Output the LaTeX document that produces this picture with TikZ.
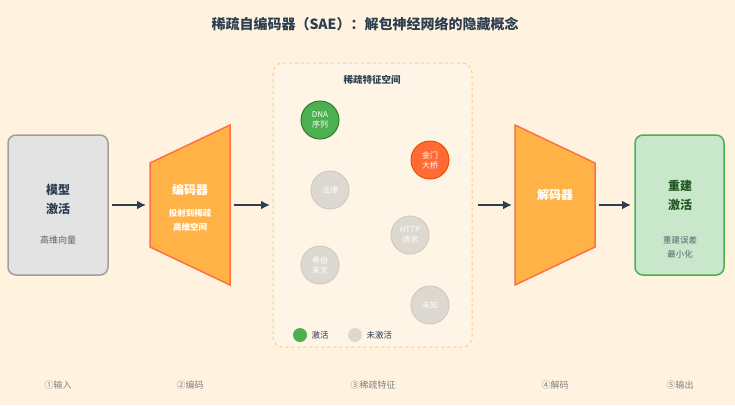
\documentclass[tikz,border=0pt]{standalone}
\usepackage{fontspec}
\setmainfont{Noto Sans CJK SC}
\usepackage{tikz}
\usetikzlibrary{positioning, arrows.meta}
\definecolor{bgColor}{HTML}{FFF3E0}
\definecolor{darkColor}{HTML}{2C3E50}
\definecolor{encColor}{HTML}{FFB347}
\definecolor{encLine}{HTML}{FF7043}
\definecolor{onColor}{HTML}{4CAF50}
\definecolor{onLine}{HTML}{2E7D32}
\definecolor{hotColor}{HTML}{FF6B35}
\definecolor{hotLine}{HTML}{E65100}
\definecolor{offColor}{HTML}{DDD8D0}
\definecolor{offLine}{HTML}{D0CAC0}
\begin{document}
\begin{tikzpicture}[
  x=1pt, y=-1pt,
  arrow/.style={-{Latex[length=9pt,width=9pt]}, line width=1.8pt, draw=darkColor},
  feature/.style={circle, minimum size=38pt, inner sep=0pt, line width=1pt,
    align=center, text=white, font=\fontsize{8}{10}\selectfont},
  stage/.style={text=gray, font=\fontsize{9}{11}\selectfont}
]
  \fill[bgColor] (0,0) rectangle (735,405);
  \useasboundingbox (0,0) rectangle (735,405);

  % Title
  \node[font=\bfseries\fontsize{14}{16}\selectfont, text=darkColor] (title) at (365,24) {稀疏自编码器（SAE）：解包神经网络的隐藏概念};

  % Input
  \draw[rounded corners=8pt, fill=gray!22, draw=gray!75, line width=1.5pt] (8,135) rectangle (108,275);
  \node[align=center, font=\bfseries\fontsize{12}{19}\selectfont, text=darkColor] (inp) at (58,199) {模型\\激活};
  \node[font=\fontsize{9}{11}\selectfont, text=darkColor!80] (inpsub) at (58,240) {高维向量};
  \coordinate (inpR) at (112,205);

  % Encoder
  \draw[fill=encColor, draw=encLine, line width=1.5pt] (150,163) -- (230,125) -- (230,285) -- (150,247) -- cycle;
  \node[font=\bfseries\fontsize{12}{14}\selectfont, text=white] (enc) at (190,190) {编码器};
  \node[align=center, font=\bfseries\fontsize{8.5}{14}\selectfont, text=white] (encsub) at (190,220) {投射到稀疏\\高维空间};
  \coordinate (encL) at (146,205);
  \coordinate (encR) at (234,205);

  % Sparse space
  \draw[rounded corners=10pt, dashed, draw=encColor!70, line width=1pt, fill=bgColor!80!white] (273,63) rectangle (472,347);
  \node[font=\bfseries\fontsize{9.5}{11}\selectfont, text=darkColor] (sptitle) at (372,80) {稀疏特征空间};
  \coordinate (spL) at (270,205);
  \coordinate (spR) at (478,205);

  \node[feature, fill=onColor, draw=onLine] (dna) at (320,120) {DNA\\序列};
  \node[feature, fill=hotColor, draw=hotLine] (bridge) at (430,160) {金门\\大桥};
  \node[feature, fill=offColor, draw=offLine] (law) at (330,190) {法律};
  \node[feature, fill=offColor, draw=offLine] (http) at (410,235) {HTTP\\请求};
  \node[feature, fill=offColor, draw=offLine] (hebrew) at (320,265) {希伯\\来文};
  \node[feature, fill=offColor, draw=offLine] (unknown) at (430,305) {未知};

  % Legend
  \fill[onColor] (300,335) circle (7);
  \node[font=\fontsize{8.5}{10}\selectfont, text=darkColor, right] (legon) at (308,335) {激活};
  \fill[offColor] (355,335) circle (7);
  \node[font=\fontsize{8.5}{10}\selectfont, text=darkColor, right] (legoff) at (363,335) {未激活};

  % Decoder
  \draw[fill=encColor, draw=encLine, line width=1.5pt] (515,125) -- (595,163) -- (595,247) -- (515,285) -- cycle;
  \node[font=\bfseries\fontsize{12}{14}\selectfont, text=white] (dec) at (555,195) {解码器};
  \coordinate (decL) at (512,205);
  \coordinate (decR) at (599,205);

  % Output
  \draw[rounded corners=8pt, fill=onColor!30, draw=onColor, line width=1.5pt] (635,135) rectangle (724,275);
  \node[align=center, font=\bfseries\fontsize{12}{19}\selectfont, text=onLine!70!black] (out) at (680,195) {重建\\激活};
  \node[align=center, font=\fontsize{8.5}{14}\selectfont, text=darkColor!80] (outsub) at (680,247) {重建误差\\最小化};
  \coordinate (outL) at (631,205);

  % Arrows
  \draw[arrow] (inpR) -- (encL);
  \draw[arrow] (encR) -- (spL);
  \draw[arrow] (spR) -- (decL);
  \draw[arrow] (decR) -- (outL);

  % Stages
  \node[stage] (s1) at (58,385) {①输入};
  \node[stage] (s2) at (190,385) {②编码};
  \node[stage] (s3) at (373,385) {③稀疏特征};
  \node[stage] (s4) at (555,385) {④解码};
  \node[stage] (s5) at (680,385) {⑤输出};
\end{tikzpicture}
\end{document}
